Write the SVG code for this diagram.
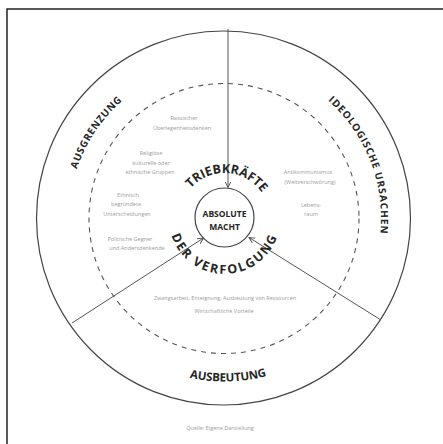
<svg xmlns="http://www.w3.org/2000/svg" width="443" height="444" viewBox="0 0 443 444">
<style>
.ring{fill:none;stroke:#444;stroke-width:1.2}
.dash{fill:none;stroke:#555;stroke-width:1.1;stroke-dasharray:5 5}
.conn{fill:none;stroke:#555;stroke-width:1}
.lbl{font-family:"Open Sans","Liberation Sans",sans-serif;font-weight:700;fill:#262626}
.sm{font-family:"Open Sans","Liberation Sans",sans-serif;font-size:5.5px;fill:#9c9c9c;text-anchor:middle}
</style>
<defs>
<marker id="arr" markerUnits="userSpaceOnUse" markerWidth="8" markerHeight="8" refX="6" refY="3" orient="auto">
<path d="M0,0 L6,3 L0,6" fill="none" stroke="#555" stroke-width="1"/>
</marker>
<path id="pTrieb" d="M180.74,207.49 A45,45 0 0 1 269.21,212.91"/>
<path id="pVerf" d="M169.19,226.76 A56,56 0 0 0 279.47,228.69"/>
<path id="pAusg" d="M117.26,330.61 A155.5,155.5 0 0 1 286.75,75.51"/>
<path id="pIdeo" d="M193.30,64.64 A156.5,156.5 0 0 1 306.27,351.44"/>
<path id="pAusb" d="M64.17,250.04 A163.5,163.5 0 0 0 386.12,242.73"/>
</defs>
<rect width="443" height="444" fill="#fff"/>
<rect x="7" y="9" width="450" height="450" fill="none" stroke="#222" stroke-width="1.5"/>
<g id="rings">
<circle class="ring" cx="223.5" cy="218" r="187"/>
<circle class="dash" cx="224" cy="218.5" r="135"/>
</g>
<g id="connectors">
<path class="conn" d="M228,29 L228,187.5" marker-end="url(#arr)"/>
<path class="conn" d="M72,323 L203.5,238" marker-end="url(#arr)"/>
<path class="conn" d="M381,320 L249,237.5" marker-end="url(#arr)"/>
</g>
<g id="center">
<circle class="ring" cx="224.5" cy="217.5" r="29.5"/>
<text class="lbl" font-size="8.5" text-anchor="middle" x="224.5" y="217">ABSOLUTE</text>
<text class="lbl" font-size="8.5" text-anchor="middle" x="224.5" y="230">MACHT</text>
</g>
<g id="title">
<text class="lbl" font-size="12.5"><textPath href="#pTrieb" startOffset="50%" text-anchor="middle" textLength="82" lengthAdjust="spacing">TRIEBKRÄFTE</textPath></text>
<text class="lbl" font-size="12.5"><textPath href="#pVerf" startOffset="50%" text-anchor="middle" textLength="138" lengthAdjust="spacing">DER VERFOLGUNG</textPath></text>
</g>
<g id="ausgrenzung">
<text class="lbl" font-size="10"><textPath href="#pAusg" startOffset="50%" text-anchor="middle" textLength="83" lengthAdjust="spacing">AUSGRENZUNG</textPath></text>
<text class="sm" x="184" y="120">Rassischer</text>
<text class="sm" x="182" y="130">Überlegenheitsdenken</text>
<text class="sm" x="151" y="155">Religiöse</text>
<text class="sm" x="151" y="165">kulturelle oder</text>
<text class="sm" x="150" y="174">ethnische Gruppen</text>
<text class="sm" x="128" y="197">Ethnisch</text>
<text class="sm" x="126" y="206">begründete</text>
<text class="sm" x="127" y="216">Unterscheidungen</text>
<text class="sm" x="130" y="241">Politische Gegner</text>
<text class="sm" x="137" y="250">und Andersdenkende</text>
</g>
<g id="ideologische-ursachen">
<text class="lbl" font-size="10"><textPath href="#pIdeo" startOffset="50%" text-anchor="middle" textLength="148" lengthAdjust="spacing">IDEOLOGISCHE URSACHEN</textPath></text>
<text class="sm" x="308" y="174">Antikommunismus</text>
<text class="sm" x="310" y="184">(Weltverschwörung)</text>
<text class="sm" x="311" y="207">Lebens-</text>
<text class="sm" x="311" y="216">raum</text>
</g>
<g id="ausbeutung">
<text class="lbl" font-size="11.5"><textPath href="#pAusb" startOffset="50%" text-anchor="middle" textLength="78" lengthAdjust="spacing">AUSBEUTUNG</textPath></text>
<text class="sm" x="225" y="300">Zwangsarbeit, Enteignung, Ausbeutung von Ressourcen</text>
<text class="sm" x="224" y="313">Wirtschaftliche Vorteile</text>
</g>
<text class="sm" x="220" y="430">Quelle: Eigene Darstellung</text>
</svg>
